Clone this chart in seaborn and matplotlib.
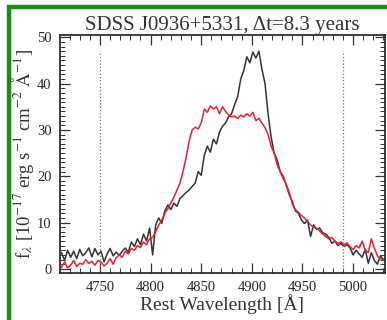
import numpy as np
import pandas as pd
import matplotlib
matplotlib.use("Agg")
import matplotlib.pyplot as plt
import seaborn as sns
from matplotlib.ticker import MultipleLocator
from matplotlib.patches import Rectangle

# ---------------- data ----------------
wave = np.arange(4712, 5031, 3)  # rest wavelength grid [A]

flux_black = [
    3.5, 1.8, 4.0, 2.5, 3.8, 2.2, 4.2, 2.8, 3.5, 4.5,      # 4712-4739
    2.6, 4.4, 3.0, 3.8, 1.5, 3.2, 4.4, 2.8, 3.6, 2.9,      # 4742-4769
    3.8, 4.5, 3.6, 5.8, 4.8, 6.5, 5.2, 7.5, 6.0, 8.8,      # 4772-4799
    3.0, 9.5, 11.0, 9.8, 12.5, 13.8, 12.8, 14.2, 13.5, 15.2,  # 4802-4829
    15.8, 16.5, 17.0, 17.8, 18.5, 21.0, 20.2, 24.5, 26.5, 25.2,  # 4832-4859
    28.0, 27.0, 29.5, 30.8, 31.5, 32.8, 33.5, 35.5, 37.2, 41.0,  # 4862-4889
    42.8, 45.8, 44.5, 46.8, 45.5, 47.0, 43.0, 40.0, 33.5, 28.5,  # 4892-4919
    25.0, 23.5, 21.0, 20.0, 18.0, 16.0, 14.5, 12.5, 12.0, 10.5,  # 4922-4949
    9.8, 10.5, 7.0, 9.5, 8.5, 8.8, 7.8, 7.5, 6.8, 5.5,      # 4952-4979
    6.0, 5.0, 5.5, 4.8, 5.2, 4.5, 3.0, 4.0, 3.2, 2.5,      # 4982-5009
    4.2, 1.2, 3.5, 1.8, 1.0, 2.8, 2.0,                      # 5012-5030
]

flux_red = [
    0.3, 1.5, 0.2, 0.8, 1.8, 0.5, 1.2, 1.0, 2.0, 1.2,      # 4712-4739
    1.6, 0.8, 1.8, 1.5, 0.6, 1.2, 2.2, 1.0, 2.4, 3.0,      # 4742-4769
    2.5, 3.8, 3.2, 4.4, 4.0, 5.0, 4.6, 5.8, 5.2, 6.5,      # 4772-4799
    6.8, 8.0, 9.5, 10.5, 12.0, 13.0, 14.2, 15.5, 17.0, 18.5,  # 4802-4829
    21.0, 24.0, 27.5, 30.0, 30.6, 30.2, 31.5, 34.5, 33.8, 35.2,  # 4832-4859
    34.5, 35.0, 33.5, 35.0, 34.0, 33.2, 32.8, 33.0, 32.5, 33.2,  # 4862-4889
    32.8, 33.5, 33.0, 33.8, 32.0, 32.5, 31.5, 30.5, 29.0, 26.5,  # 4892-4919
    25.0, 22.5, 21.0, 19.5, 18.2, 16.5, 14.0, 12.8, 12.2, 11.5,  # 4922-4949
    11.0, 10.2, 9.5, 9.0, 8.8, 8.2, 7.5, 7.0, 6.5, 6.8,    # 4952-4979
    6.0, 5.5, 5.8, 5.2, 5.6, 4.8, 4.2, 5.0, 4.5, 6.0,      # 4982-5009
    4.0, 3.5, 6.5, 4.5, 2.8, 2.2, 2.0,                      # 5012-5030
]

window_lines = [4750, 4990]
title_text = "SDSS J0936+5331, \u0394t=8.3 years"
xlabel_text = "Rest Wavelength [\u00c5]"
ylabel_text = r"f$_\lambda$ [10$^{-17}$ erg s$^{-1}$ cm$^{-2}$ $\mathrm{\AA}^{-1}$]"

n = min(len(wave), len(flux_black), len(flux_red))
df = pd.DataFrame({
    "wave": np.concatenate([wave[:n], wave[:n]]),
    "flux": np.concatenate([flux_black[:n], flux_red[:n]]),
    "epoch": ["old"] * n + ["new"] * n,
})

# ---------------- style ----------------
sns.set_theme(style="ticks")
plt.rcParams["font.family"] = ["Liberation Serif", "DejaVu Serif"]
plt.rcParams["mathtext.fontset"] = "stix"

fig = plt.figure(figsize=(3.87, 3.20), dpi=100)

# green frame around the figure (drawn first, behind everything)
fig.patches.append(Rectangle((9/387, -0.01), 1.2, 1 - 7/320 + 0.01,
                             transform=fig.transFigure, fill=False,
                             edgecolor="#1a8c1a", linewidth=3.2, zorder=-5))

ax = fig.add_axes([60/387, 1 - 273/320, (385 - 60)/387, (273 - 35)/320])

sns.lineplot(data=df, x="wave", y="flux", hue="epoch",
             palette={"old": "#333333", "new": "#e8202e"},
             hue_order=["old", "new"], legend=False, ax=ax,
             linewidth=1.1, estimator=None, sort=False)

for wl in window_lines:
    ax.axvline(wl, ymin=0, ymax=(47 + 0.9) / 51.4, color="#777777",
               linestyle=":", linewidth=0.9)

ax.set_xlim(4710.5, 5031.5)
ax.set_ylim(-0.9, 50.5)
ax.xaxis.set_major_locator(MultipleLocator(50))
ax.xaxis.set_minor_locator(MultipleLocator(10))
ax.yaxis.set_major_locator(MultipleLocator(10))
ax.yaxis.set_minor_locator(MultipleLocator(1))
ax.tick_params(which="both", direction="in", top=True, right=True,
               bottom=True, left=True, color="#333333")
ax.tick_params(which="major", length=7, width=0.9, labelsize=10.5, pad=6)
ax.tick_params(which="minor", length=3.5, width=0.7)

ax.set_title(title_text, fontsize=15, color="#333333", pad=3)
ax.set_xlabel(xlabel_text, fontsize=14, color="#333333", labelpad=0)
ax.set_ylabel(ylabel_text, fontsize=13.5, color="#333333", labelpad=1)

fig.savefig("out.png", dpi=100)
